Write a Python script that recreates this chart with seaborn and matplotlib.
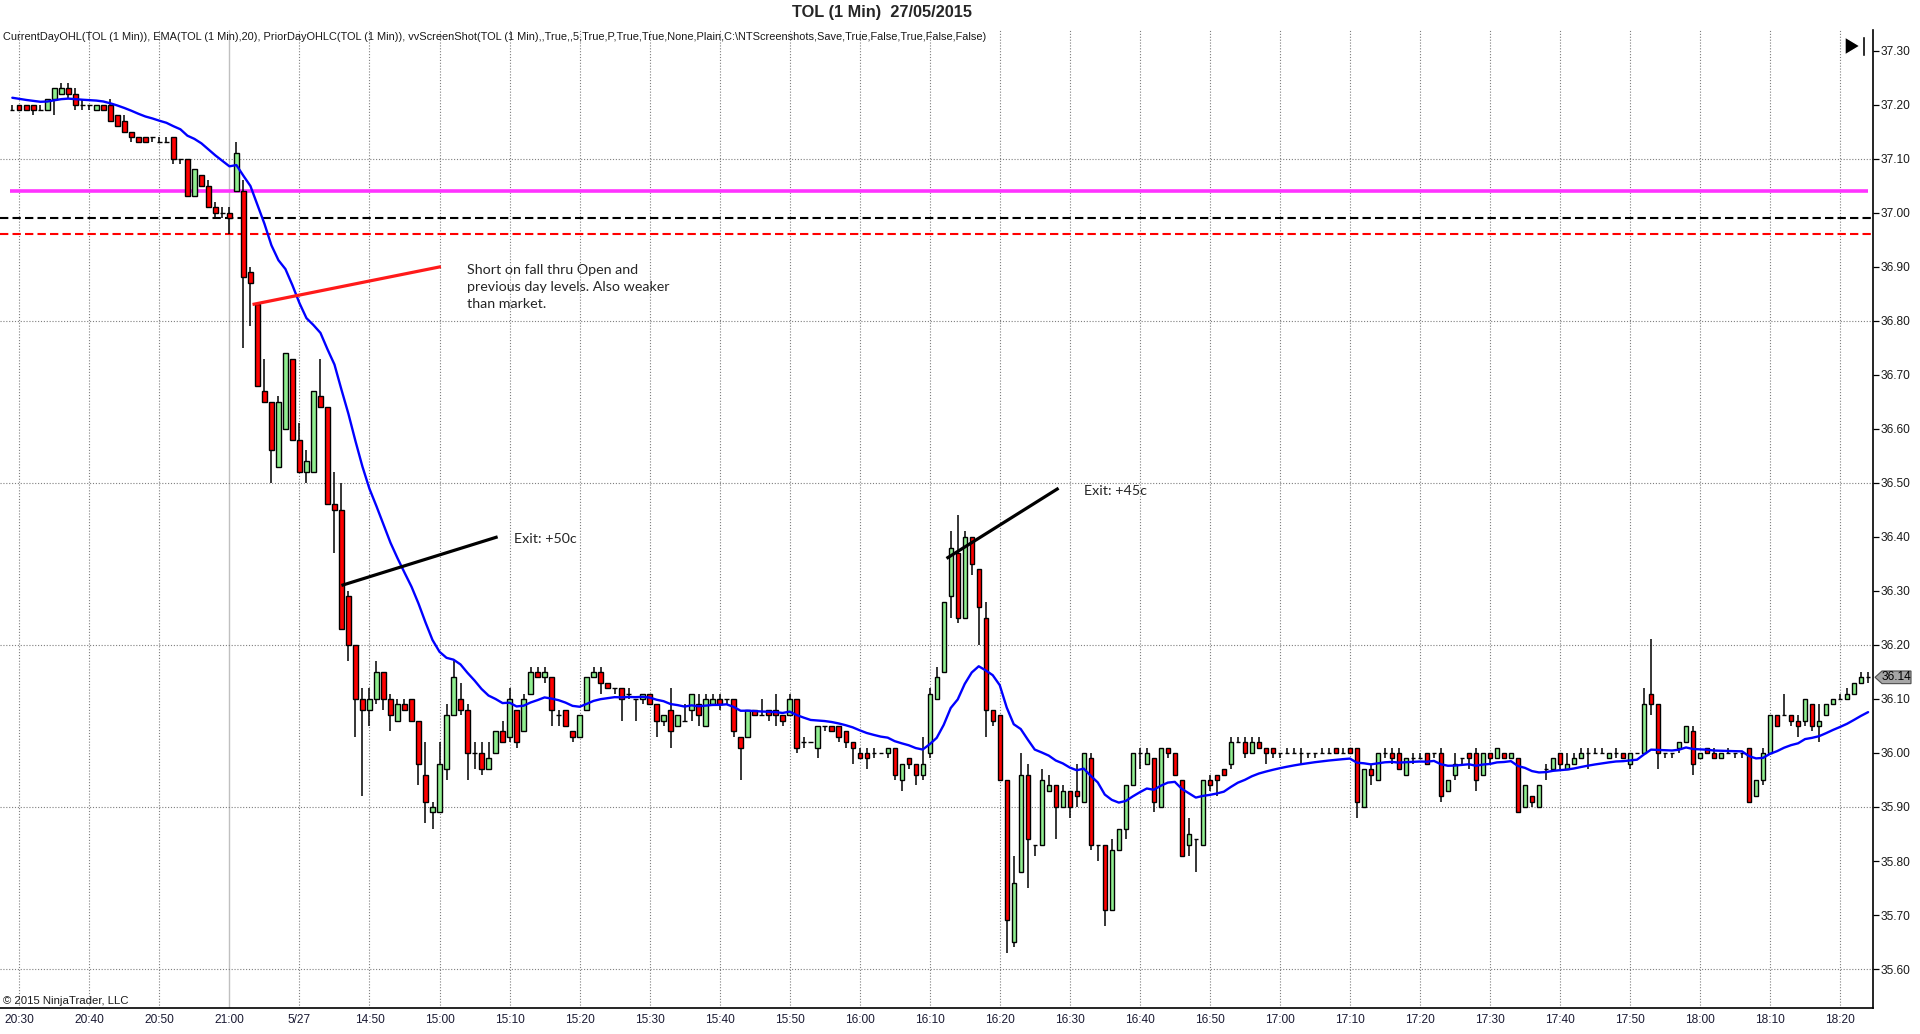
import numpy as np
import pandas as pd
import matplotlib
matplotlib.use("Agg")
import matplotlib.pyplot as plt
import seaborn as sns
from matplotlib import font_manager
from matplotlib.patches import Polygon, Rectangle

# bar -1 is 20:29 of the prior session, bar 31 is the first bar of 27/05
first_bar = -1

opens = [
    37.19,
    37.20, 37.20, 37.20, 37.19, 37.19, 37.21, 37.22, 37.23, 37.22, 37.20,
    37.20, 37.19, 37.20, 37.20, 37.18, 37.17, 37.15, 37.14, 37.14, 37.14,
    37.13, 37.13, 37.14, 37.10, 37.10, 37.03, 37.07, 37.05, 37.01, 37.00,
    37.00, 37.04, 37.04, 36.89, 36.83, 36.67, 36.65, 36.53, 36.60, 36.73,
    36.58, 36.52, 36.52, 36.66, 36.64, 36.46, 36.45, 36.29, 36.20, 36.10,
    36.08, 36.10, 36.15, 36.10, 36.06, 36.09, 36.10, 36.06, 35.96, 35.89,
    35.89, 35.97, 36.07, 36.10, 36.08, 36.00, 36.00, 35.97, 36.00, 36.04,
    36.03, 36.08, 36.04, 36.11, 36.15, 36.14, 36.14, 36.07, 36.08, 36.04,
    36.03, 36.08, 36.14, 36.15, 36.13, 36.12, 36.12, 36.11, 36.10, 36.10,
    36.11, 36.09, 36.06, 36.08, 36.05, 36.06, 36.08, 36.09, 36.05, 36.09,
    36.10, 36.10, 36.10, 36.03, 36.03, 36.08, 36.07, 36.08, 36.08, 36.07,
    36.07, 36.10, 36.02, 36.02, 36.01, 36.05, 36.05, 36.05, 36.04, 36.02,
    36.00, 36.00, 36.00, 36.00, 36.00, 36.01, 35.95, 35.99, 35.98, 35.96,
    36.00, 36.10, 36.15, 36.29, 36.37, 36.25, 36.40, 36.34, 36.25, 36.08,
    36.07, 35.95, 35.65, 35.78, 35.96, 35.83, 35.83, 35.93, 35.94, 35.90,
    35.93, 35.93, 35.91, 35.99, 35.83, 35.83, 35.71, 35.82, 35.86, 35.94,
    36.00, 35.98, 35.99, 35.90, 36.01, 36.00, 35.95, 35.83, 35.84, 35.83,
    35.95, 35.96, 35.97, 35.98, 36.02, 36.02, 36.00, 36.02, 36.01, 36.01,
    36.00, 36.00, 36.00, 36.00, 36.00, 36.00, 36.00, 36.00, 36.01, 36.00,
    36.01, 36.01, 35.90, 35.97, 35.95, 36.00, 36.00, 36.00, 35.96, 35.99,
    35.99, 36.00, 36.00, 36.00, 35.93, 35.96, 35.99, 36.00, 36.00, 35.96,
    36.00, 35.99, 36.00, 35.99, 35.99, 35.90, 35.92, 35.90, 35.97, 35.97,
    36.00, 35.97, 35.98, 35.99, 36.00, 36.00, 36.00, 35.99, 36.00, 36.00,
    35.98, 36.00, 36.00, 36.11, 36.09, 36.00, 36.00, 36.01, 36.02, 36.04,
    35.99, 36.01, 36.00, 35.99, 36.00, 36.00, 36.00, 36.01, 35.92, 35.95,
    36.00, 36.07, 36.07, 36.07, 36.06, 36.06, 36.09, 36.05, 36.07, 36.09,
    36.10, 36.10, 36.11, 36.13, 36.14,
]

highs = [
    37.20,
    37.20, 37.20, 37.20, 37.20, 37.21, 37.23, 37.24, 37.24, 37.23, 37.21,
    37.20, 37.20, 37.20, 37.21, 37.18, 37.18, 37.15, 37.14, 37.14, 37.14,
    37.14, 37.14, 37.14, 37.10, 37.10, 37.08, 37.07, 37.06, 37.02, 37.01,
    37.01, 37.13, 37.06, 36.90, 36.83, 36.73, 36.65, 36.66, 36.74, 36.73,
    36.61, 36.56, 36.67, 36.73, 36.64, 36.52, 36.50, 36.30, 36.20, 36.12,
    36.12, 36.17, 36.15, 36.11, 36.10, 36.10, 36.10, 36.06, 36.02, 35.91,
    36.02, 36.09, 36.17, 36.13, 36.09, 36.02, 36.02, 36.02, 36.04, 36.06,
    36.12, 36.08, 36.11, 36.16, 36.16, 36.16, 36.14, 36.08, 36.08, 36.04,
    36.07, 36.14, 36.16, 36.16, 36.13, 36.12, 36.12, 36.12, 36.10, 36.11,
    36.11, 36.09, 36.07, 36.12, 36.07, 36.09, 36.11, 36.11, 36.11, 36.11,
    36.11, 36.10, 36.10, 36.03, 36.08, 36.08, 36.10, 36.08, 36.11, 36.07,
    36.11, 36.10, 36.03, 36.02, 36.05, 36.05, 36.05, 36.05, 36.04, 36.02,
    36.01, 36.01, 36.01, 36.00, 36.01, 36.01, 35.98, 35.99, 35.98, 36.03,
    36.12, 36.16, 36.28, 36.41, 36.44, 36.41, 36.40, 36.34, 36.28, 36.08,
    36.07, 35.95, 35.81, 36.00, 35.98, 35.83, 35.97, 35.96, 35.94, 35.94,
    35.93, 35.98, 36.00, 36.00, 35.83, 35.83, 35.84, 35.86, 35.94, 36.00,
    36.01, 36.01, 35.99, 36.01, 36.01, 36.00, 35.95, 35.88, 35.84, 35.95,
    35.96, 35.96, 35.97, 36.03, 36.03, 36.03, 36.03, 36.03, 36.01, 36.01,
    36.00, 36.01, 36.01, 36.01, 36.00, 36.00, 36.01, 36.01, 36.01, 36.01,
    36.01, 36.01, 35.97, 35.98, 36.00, 36.01, 36.01, 36.01, 35.99, 36.00,
    36.00, 36.00, 36.00, 36.01, 35.95, 36.00, 35.99, 36.00, 36.01, 36.00,
    36.00, 36.01, 36.00, 36.00, 35.99, 35.94, 35.92, 35.94, 35.98, 35.99,
    36.00, 36.00, 36.00, 36.01, 36.01, 36.01, 36.01, 36.00, 36.01, 36.00,
    36.00, 36.00, 36.12, 36.21, 36.09, 36.00, 36.00, 36.02, 36.05, 36.05,
    36.00, 36.01, 36.01, 36.00, 36.01, 36.00, 36.00, 36.01, 35.95, 36.01,
    36.07, 36.07, 36.11, 36.07, 36.07, 36.10, 36.09, 36.09, 36.09, 36.10,
    36.11, 36.12, 36.13, 36.15, 36.15,
]

lows = [
    37.19,
    37.19, 37.19, 37.18, 37.19, 37.19, 37.18, 37.22, 37.21, 37.19, 37.19,
    37.19, 37.19, 37.19, 37.17, 37.16, 37.15, 37.13, 37.13, 37.13, 37.13,
    37.13, 37.13, 37.09, 37.09, 37.03, 37.03, 37.05, 37.01, 36.99, 36.99,
    36.96, 37.04, 36.75, 36.79, 36.68, 36.65, 36.50, 36.53, 36.60, 36.58,
    36.52, 36.50, 36.52, 36.64, 36.46, 36.37, 36.23, 36.17, 36.03, 35.92,
    36.05, 36.09, 36.08, 36.04, 36.06, 36.08, 36.06, 35.94, 35.87, 35.86,
    35.89, 35.95, 36.07, 36.07, 35.95, 35.97, 35.96, 35.97, 36.00, 36.02,
    36.02, 36.01, 36.04, 36.11, 36.14, 36.13, 36.05, 36.05, 36.05, 36.02,
    36.03, 36.08, 36.14, 36.11, 36.12, 36.11, 36.06, 36.10, 36.06, 36.09,
    36.09, 36.03, 36.05, 36.01, 36.05, 36.06, 36.06, 36.05, 36.05, 36.09,
    36.08, 36.09, 36.03, 35.95, 36.03, 36.07, 36.07, 36.06, 36.05, 36.05,
    36.07, 36.00, 36.01, 36.02, 35.99, 36.04, 36.04, 36.02, 36.01, 35.98,
    35.99, 35.97, 35.99, 36.00, 35.99, 35.95, 35.93, 35.97, 35.94, 35.95,
    35.99, 36.10, 36.15, 36.25, 36.24, 36.25, 36.33, 36.20, 36.03, 36.05,
    35.95, 35.63, 35.64, 35.78, 35.75, 35.81, 35.83, 35.93, 35.84, 35.90,
    35.88, 35.90, 35.91, 35.82, 35.80, 35.68, 35.71, 35.82, 35.84, 35.94,
    35.97, 35.98, 35.89, 35.90, 35.99, 35.96, 35.81, 35.81, 35.78, 35.83,
    35.93, 35.92, 35.96, 35.97, 36.02, 35.99, 36.00, 36.01, 35.98, 35.99,
    35.99, 36.00, 36.00, 35.98, 35.99, 35.99, 36.00, 36.00, 36.00, 36.00,
    36.00, 35.88, 35.90, 35.94, 35.95, 35.99, 35.98, 35.97, 35.96, 35.98,
    35.99, 35.98, 35.99, 35.91, 35.93, 35.95, 35.98, 35.97, 35.93, 35.96,
    35.98, 35.99, 35.99, 35.99, 35.89, 35.90, 35.90, 35.90, 35.95, 35.97,
    35.97, 35.97, 35.98, 35.99, 35.97, 36.00, 36.00, 35.99, 35.99, 35.99,
    35.97, 36.00, 36.00, 36.07, 35.97, 35.99, 35.99, 36.00, 36.02, 35.96,
    35.99, 36.00, 35.99, 35.99, 36.00, 35.99, 35.99, 35.91, 35.92, 35.94,
    36.00, 36.05, 36.07, 36.05, 36.03, 36.05, 36.04, 36.02, 36.07, 36.09,
    36.10, 36.10, 36.11, 36.13, 36.13,
]

closes = [
    37.19,
    37.19, 37.19, 37.19, 37.19, 37.21, 37.23, 37.23, 37.22, 37.20, 37.20,
    37.20, 37.20, 37.19, 37.17, 37.16, 37.15, 37.14, 37.13, 37.13, 37.14,
    37.13, 37.13, 37.10, 37.10, 37.03, 37.08, 37.05, 37.01, 37.00, 37.00,
    36.99, 37.11, 36.88, 36.87, 36.68, 36.65, 36.56, 36.65, 36.74, 36.58,
    36.52, 36.54, 36.67, 36.64, 36.46, 36.45, 36.23, 36.20, 36.10, 36.08,
    36.10, 36.15, 36.10, 36.07, 36.09, 36.08, 36.06, 35.98, 35.91, 35.90,
    35.98, 36.07, 36.14, 36.08, 36.00, 36.00, 35.97, 35.99, 36.04, 36.02,
    36.10, 36.02, 36.10, 36.15, 36.14, 36.15, 36.08, 36.07, 36.05, 36.03,
    36.07, 36.14, 36.15, 36.13, 36.12, 36.12, 36.10, 36.11, 36.10, 36.11,
    36.09, 36.06, 36.07, 36.04, 36.07, 36.06, 36.11, 36.07, 36.10, 36.10,
    36.09, 36.10, 36.04, 36.01, 36.08, 36.07, 36.07, 36.07, 36.07, 36.06,
    36.10, 36.01, 36.02, 36.02, 36.05, 36.05, 36.04, 36.03, 36.02, 36.01,
    35.99, 35.99, 36.00, 36.00, 36.01, 35.96, 35.98, 35.98, 35.96, 35.98,
    36.11, 36.14, 36.28, 36.38, 36.25, 36.40, 36.35, 36.27, 36.08, 36.06,
    35.95, 35.69, 35.76, 35.96, 35.84, 35.83, 35.95, 35.94, 35.90, 35.93,
    35.90, 35.92, 36.00, 35.83, 35.83, 35.71, 35.82, 35.86, 35.94, 36.00,
    36.00, 36.00, 35.91, 36.01, 36.00, 35.96, 35.81, 35.85, 35.84, 35.95,
    35.94, 35.95, 35.96, 36.02, 36.02, 36.00, 36.02, 36.01, 36.00, 36.00,
    36.00, 36.00, 36.00, 36.00, 36.00, 36.00, 36.00, 36.00, 36.00, 36.00,
    36.00, 35.91, 35.97, 35.96, 36.00, 36.00, 35.99, 35.97, 35.99, 35.99,
    35.99, 35.98, 36.00, 35.92, 35.95, 35.98, 35.99, 35.99, 35.95, 36.00,
    35.99, 36.01, 35.99, 36.00, 35.89, 35.94, 35.91, 35.94, 35.97, 35.99,
    35.98, 35.98, 35.99, 36.00, 36.00, 36.00, 36.00, 36.00, 36.00, 35.99,
    36.00, 36.00, 36.09, 36.09, 36.00, 36.00, 36.00, 36.02, 36.05, 35.98,
    36.00, 36.00, 35.99, 36.00, 36.00, 36.00, 36.00, 35.91, 35.95, 36.00,
    36.07, 36.05, 36.07, 36.06, 36.05, 36.10, 36.05, 36.06, 36.09, 36.10,
    36.10, 36.11, 36.13, 36.14, 36.14,
]

# EMA(20) value carried in from before the first visible bar
ema_seed = 37.215

tick_bars = list(range(0, 261, 10))
tick_labels = ["20:30", "20:40", "20:50", "21:00", "5/27", "14:50", "15:00",
               "15:10", "15:20", "15:30", "15:40", "15:50", "16:00", "16:10",
               "16:20", "16:30", "16:40", "16:50", "17:00", "17:10", "17:20",
               "17:30", "17:40", "17:50", "18:00", "18:10", "18:20"]
session_break = 30

today_open = 37.04
prior_close = 36.99
prior_low = 36.96

# hand drawn annotations (bar, price)
short_line = [(33.3, 36.83), (60.2, 36.90)]
exit1_line = [(46.0, 36.31), (68.3, 36.40)]
exit2_line = [(132.4, 36.36), (148.4, 36.49)]
short_text = "Short on fall thru Open and\nprevious day levels. Also weaker\nthan market."
short_text_pos = (63.9, 36.862)
exit1_text_pos = (70.7, 36.396)
exit2_text_pos = (152.1, 36.484)

indicator_text = ("CurrentDayOHL(TOL (1 Min)), EMA(TOL (1 Min),20), PriorDayOHLC(TOL (1 Min)), "
                  "vvScreenShot(TOL (1 Min),,True,,5,True,P,True,True,None,Plain,"
                  "C:\\NTScreenshots,Save,True,False,True,False,False)")

df = pd.DataFrame({"bar": np.arange(first_bar, first_bar + len(closes)),
                   "open": opens, "high": highs, "low": lows, "close": closes})
ema_input = pd.concat([pd.Series([ema_seed]), df["close"]], ignore_index=True)
df["ema"] = ema_input.ewm(span=20, adjust=False).mean().iloc[1:].values

sns.set_style("white")
names = {f.name for f in font_manager.fontManager.ttflist}
narrow = "Liberation Sans Narrow" if "Liberation Sans Narrow" in names else "Liberation Sans"
plt.rcParams["font.family"] = [narrow, "DejaVu Sans"]

W, H = 1920, 1034
fig = plt.figure(figsize=(W / 100, H / 100), dpi=100)
ax_left, ax_right, ax_top, ax_bottom = 0, 1873, 30, 1008
ax = fig.add_axes([ax_left / W, 1 - ax_bottom / H, (ax_right - ax_left) / W, (ax_bottom - ax_top) / H])

x_min, x_max = -2.76, 264.7
ax.set_xlim(x_min, x_max)
ax.set_ylim(35.528, 37.338)

# grid
for b in tick_bars:
    if b == session_break:
        ax.axvline(b, color="#c0c0c0", lw=1.0, zorder=0)
    else:
        ax.axvline(b, color="#7f7f7f", lw=0.8, ls=(0, (1, 1.6)), zorder=0)
for lvl in np.arange(35.6, 37.31, 0.3):
    ax.axhline(lvl, color="#7f7f7f", lw=0.8, ls=(0, (1, 1.6)), zorder=0)

# level lines
ax.axhline(prior_close, color="black", lw=1.5, dashes=(4, 2), zorder=2)
ax.axhline(prior_low, color="#ff0000", lw=1.5, dashes=(4, 2), zorder=2)
ax.hlines(today_open, df["bar"].iloc[0] - 0.4, df["bar"].iloc[-1], color="#ff33ff", lw=2.6, zorder=2)

# candles
ax.vlines(df["bar"], df["low"], df["high"], color="black", lw=1.1, zorder=3)
up = df["close"] > df["open"]
body_colors = np.where(up, "#90ee90", np.where(df["close"] < df["open"], "#ff0000", "black"))
ax.bar(df["bar"], (df["close"] - df["open"]).abs(), bottom=np.minimum(df["open"], df["close"]),
       width=0.62, color=body_colors, edgecolor="black", linewidth=1.0, zorder=4)

# EMA
sns.lineplot(x=df["bar"], y=df["ema"], color="#0000ff", lw=1.7, ax=ax, zorder=5, legend=False)

# annotations
(x0, y0), (x1, y1) = short_line
ax.plot([x0, x1], [y0, y1], color="#ff1a1a", lw=2.3, solid_capstyle="butt", zorder=6)
for line in (exit1_line, exit2_line):
    (x0, y0), (x1, y1) = line
    ax.plot([x0, x1], [y0, y1], color="black", lw=2.3, solid_capstyle="butt", zorder=6)
ax.text(*short_text_pos, short_text, family=["Lato", "DejaVu Sans"], fontsize=10.3,
        va="center", ha="left", linespacing=1.5, zorder=7)
ax.text(*exit1_text_pos, "Exit: +50c", family=["Lato", "DejaVu Sans"], fontsize=10.3, va="center", zorder=7)
ax.text(*exit2_text_pos, "Exit: +45c", family=["Lato", "DejaVu Sans"], fontsize=10.3, va="center", zorder=7)

# axes styling
for side in ("left", "top"):
    ax.spines[side].set_visible(False)
for side in ("right", "bottom"):
    ax.spines[side].set_color("black")
    ax.spines[side].set_linewidth(1.2)
ax.yaxis.tick_right()
ax.set_yticks(np.round(np.arange(35.6, 37.31, 0.1), 2))
ax.yaxis.set_major_formatter(matplotlib.ticker.FormatStrFormatter("%.2f"))
ax.tick_params(axis="y", direction="out", length=4.5, width=0.9, pad=1, labelsize=8.6,
               colors="black", labelcolor="#1a1a1a")
ax.set_xticks(tick_bars)
ax.set_xticklabels(tick_labels)
ax.tick_params(axis="x", length=0, pad=4, labelsize=8.6, labelcolor="#1a1a33")
ax.set_xlabel("")
ax.set_ylabel("")

# last price marker
last = df["close"].iloc[-1]
tr = ax.get_yaxis_transform()
px = 1.0 / (ax_right - ax_left)
hh = 0.0117
ax.add_patch(Polygon([(1 + 2 * px, last), (1 + 9 * px, last + hh), (1 + 38 * px, last + hh),
                      (1 + 38 * px, last - hh), (1 + 9 * px, last - hh)], closed=True,
                     transform=tr, facecolor="#a6a6a6", edgecolor="#4d4d4d", lw=0.8,
                     clip_on=False, zorder=8))
ax.text(1 + 23.5 * px, last, f"{last:.2f}", transform=tr, ha="center", va="center",
        fontsize=8.6, color="black", clip_on=False, zorder=9)

# texts outside the data
fig.text(882 / W, 1 - 12 / H, "TOL (1 Min)  27/05/2015", ha="center", va="center",
         fontsize=11.8, fontweight="bold")
fig.text(3 / W, 1 - 37 / H, indicator_text, ha="left", va="center", fontsize=7.95, color="#1a1a1a")
fig.text(3 / W, 1 - 1001 / H, "\u00a9 2015 NinjaTrader, LLC", ha="left", va="center",
         fontsize=8.2, color="#1a1a1a")

# scroll-to-end glyph
fig.patches.append(Polygon([(1845 / W, 1 - 37 / H), (1860 / W, 1 - 46 / H), (1845 / W, 1 - 55 / H)],
                           closed=True, transform=fig.transFigure, facecolor="black", figure=fig))
fig.patches.append(Rectangle((1862 / W, 1 - 56 / H), 3 / W, 20 / H, transform=fig.transFigure,
                             facecolor="black", figure=fig))

fig.savefig("out.png", dpi=100)
